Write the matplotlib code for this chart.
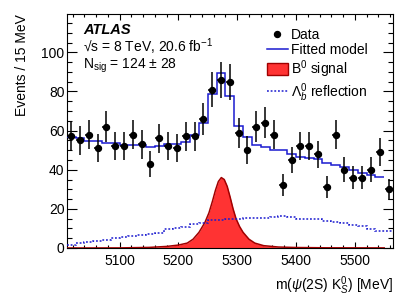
import numpy as np
import matplotlib
matplotlib.use("Agg")
import matplotlib.pyplot as plt
from matplotlib.ticker import MultipleLocator
from matplotlib.lines import Line2D
from matplotlib.patches import Patch

plt.rcParams['font.family'] = ['Liberation Sans', 'DejaVu Sans']
plt.rcParams['mathtext.fontset'] = 'custom'
plt.rcParams['mathtext.rm'] = 'Liberation Sans'
plt.rcParams['mathtext.it'] = 'Liberation Sans:italic'
plt.rcParams['mathtext.bf'] = 'Liberation Sans:bold'

# ---- data ----
bin_lo = 5010.0
bin_width = 15.0
data_counts = [57, 55, 58, 51, 62, 52, 52, 58, 53, 43, 56, 52, 51, 57, 57, 66,
               81, 86, 85, 59, 50, 62, 64, 58, 32, 45, 52, 52, 48, 31, 58, 40,
               36, 36, 40, 49, 30]
model_vals = [56.5, 56, 54.5, 54.5, 53.8, 53.7, 52.8, 52.8, 52.8, 51.4, 52, 53.2,
              53.2, 54, 58, 64, 78.5, 89.6, 77.6, 62.2, 56.8, 52.8, 51.6, 50.3,
              50.3, 48.2, 46.5, 46, 45.5, 43.4, 42.6, 41.4, 40, 38.3, 37.4, 36.3]
refl_vals = [1.5, 2.5, 3.2, 3.5, 4.3, 5.0, 5.6, 6.0, 6.5, 7.0, 7.5, 9.6, 10.2,
             10.5, 12.3, 12.8, 14.2, 14.4, 14.6, 15.0, 15.2, 15.5, 15.5, 15.7,
             16.4, 16.0, 15.0, 14.8, 14.7, 14.0, 13.2, 12.6, 11.5, 11.0, 9.5,
             8.7, 8.7]
sig_x = [5010, 5100, 5150, 5180, 5200, 5215, 5225, 5235, 5245, 5252, 5258, 5263,
         5268, 5273, 5278, 5283, 5288, 5293, 5298, 5304, 5310, 5320, 5330, 5345,
         5370, 5400, 5450, 5550]
sig_y = [0.0, 0.05, 0.3, 0.8, 1.5, 2.5, 4.5, 8.0, 13.0, 18.0, 24.0, 29.5,
         34.0, 36.0, 35.0, 31.5, 26.0, 20.0, 15.0, 11.0, 8.0, 4.5, 2.5, 1.2,
         0.5, 0.25, 0.1, 0.05]

n = len(data_counts)
edges = bin_lo + bin_width * np.arange(n + 1)
centers = 0.5 * (edges[:-1] + edges[1:])
counts = np.array(data_counts, float)

fig = plt.figure(figsize=(4.15, 2.98), dpi=100)
ax = fig.add_axes([0.1607, 0.1678, 0.7863, 0.7852])

blue = '#1a1ad0'
ax.fill_between(sig_x, sig_y, 0, color='#ff3333', lw=0, zorder=2)
ax.plot(sig_x, sig_y, color='#a00000', lw=1.1, zorder=3)
ax.stairs(refl_vals, edges, color=blue, lw=1.1, ls=(0, (1.2, 1.2)),
          baseline=None, zorder=3)
ax.stairs(model_vals, edges[:len(model_vals) + 1], color=blue, lw=1.1,
          baseline=None, zorder=4)
ax.errorbar(centers, counts, yerr=np.sqrt(counts), xerr=bin_width / 2 * 0.9,
            fmt='o', color='black', ms=4.3, elinewidth=1.1, capsize=0, zorder=5)

ax.set_xlim(5010, 5565)
ax.set_ylim(0, 119.6)
ax.xaxis.set_major_locator(MultipleLocator(100))
ax.xaxis.set_minor_locator(MultipleLocator(20))
ax.yaxis.set_major_locator(MultipleLocator(20))
ax.yaxis.set_minor_locator(MultipleLocator(5))
ax.tick_params(axis='both', which='both', direction='in', top=True, right=True,
               labelsize=10, width=0.8)
ax.tick_params(axis='y', which='major', length=7.2, pad=1.5)
ax.tick_params(axis='y', which='minor', length=3.6)
ax.tick_params(axis='x', which='major', length=4.3, pad=4)
ax.tick_params(axis='x', which='minor', length=2.3)
for s in ax.spines.values():
    s.set_linewidth(0.8)

ax.set_ylabel('Events / 15 MeV', fontsize=10, loc='top', labelpad=9)
ax.set_xlabel(r'm($\psi$(2S) K$^0_S$) [MeV]', fontsize=10, loc='right', labelpad=5)

ax.text(0.051, 0.932, 'ATLAS', transform=ax.transAxes, fontsize=10.5,
        fontweight='bold', fontstyle='italic', va='center', ha='left')
ax.text(0.051, 0.862, '\u221as = 8 TeV, 20.6 fb$^{-1}$', transform=ax.transAxes,
        fontsize=10, va='center', ha='left')
ax.text(0.051, 0.778, 'N$_{\\mathrm{sig}}$ = 124 \u00b1 28', transform=ax.transAxes,
        fontsize=10, va='center', ha='left')

handles = [
    Line2D([], [], marker='o', color='black', ls='none', ms=4.3),
    Line2D([], [], color=blue, lw=1.1),
    Patch(facecolor='#ff3333', edgecolor='#a00000', lw=1.0),
    Line2D([], [], color=blue, lw=1.1, ls=(0, (1.2, 1.2))),
]
labels = ['Data', 'Fitted model', 'B$^0$ signal', r'$\Lambda^0_b$ reflection']
ax.legend(handles, labels, loc='upper left', bbox_to_anchor=(0.613, 0.94),
          frameon=False, fontsize=10, borderpad=0, borderaxespad=0,
          handlelength=1.55, handleheight=0.95, handletextpad=0.2,
          labelspacing=0.08)

fig.savefig('out.png', dpi=100)
